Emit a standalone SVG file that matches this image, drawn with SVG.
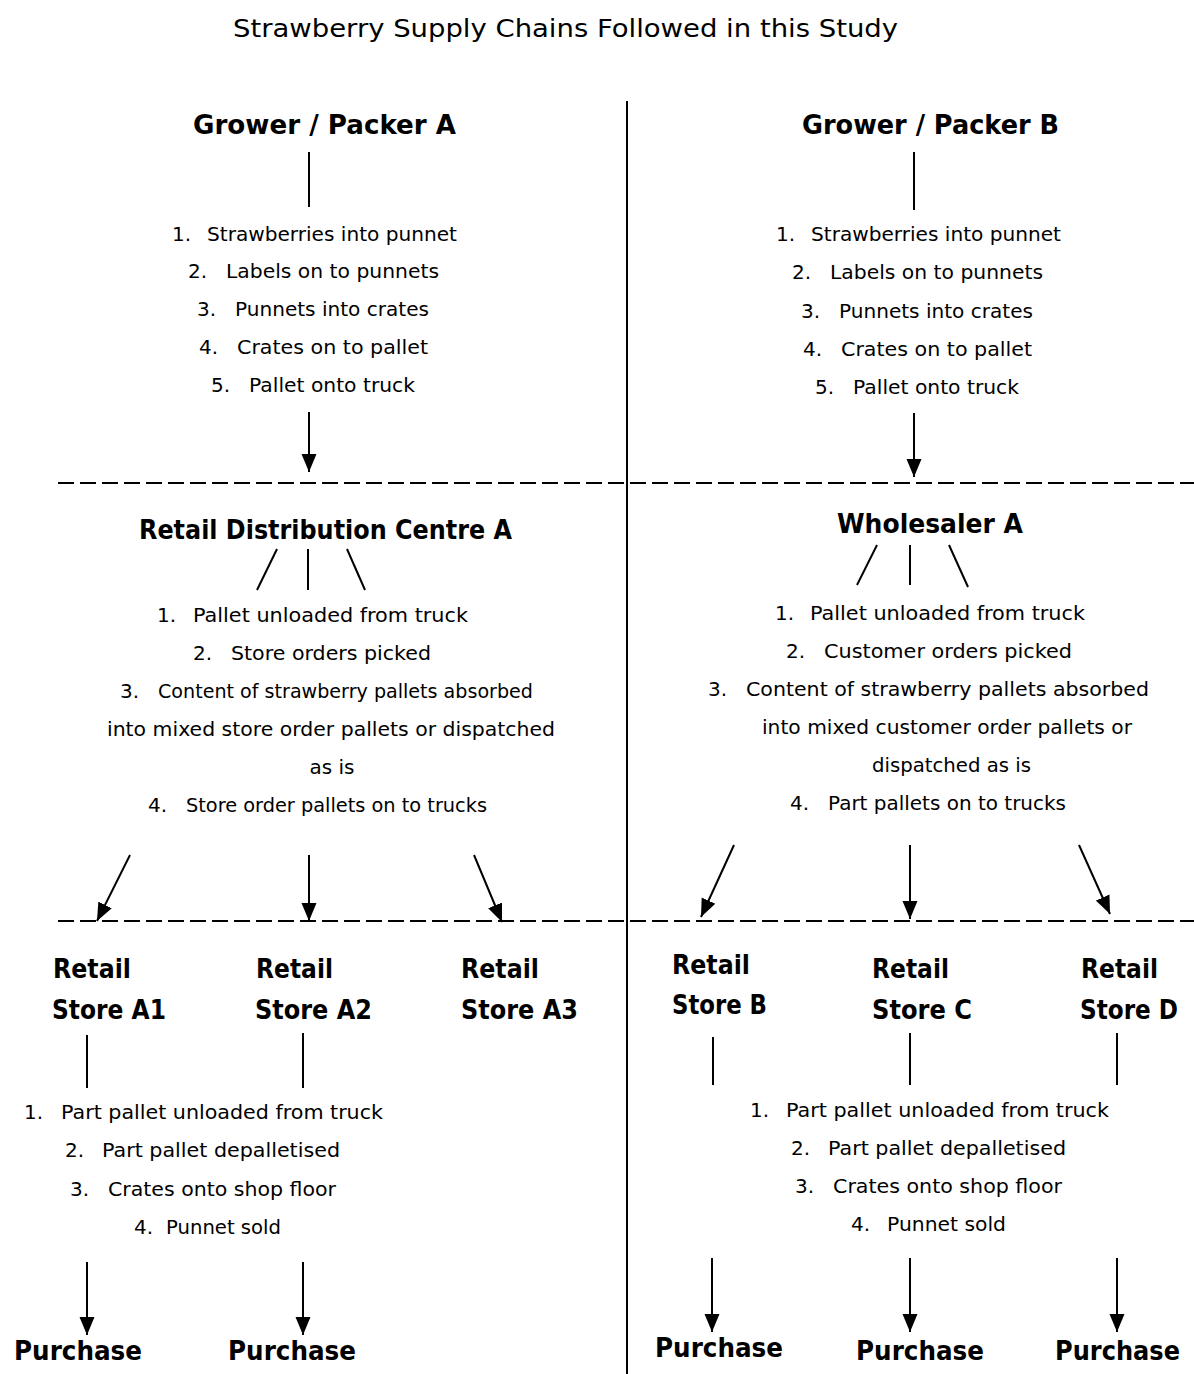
<svg xmlns="http://www.w3.org/2000/svg" width="1194" height="1374" viewBox="0 0 1194 1374">
<style>
  text { font-family: "DejaVu Sans", "Liberation Sans", sans-serif; fill: #000; }
  .t { font-size: 24px; }
  .h { font-size: 27px; font-weight: bold; }
  .s { font-size: 20px; }
  .ln { stroke: #000; stroke-width: 2; fill: none; }
  .ar { stroke: #000; stroke-width: 2; fill: none; marker-end: url(#ah); }
  .dash { stroke: #000; stroke-width: 2; stroke-dasharray: 16 6; fill: none; }
</style>
<defs>
  <marker id="ah" markerUnits="userSpaceOnUse" markerWidth="18" markerHeight="16" refX="18" refY="8" orient="auto">
    <path d="M0,0.5 L18,8 L0,15.5 z" fill="#000"/>
  </marker>
</defs>
<rect width="1194" height="1374" fill="#fff"/>
<text class="t" x="233" y="37" textLength="665" lengthAdjust="spacingAndGlyphs">Strawberry Supply Chains Followed in this Study</text>

<g id="connectors">
  <line class="ln" x1="627" y1="101" x2="627" y2="1374"/>
  <line class="dash" x1="58" y1="483" x2="1194" y2="483"/>
  <line class="dash" x1="58" y1="921" x2="1194" y2="921"/>
  <line class="ln" x1="309" y1="152" x2="309" y2="207"/>
  <line class="ln" x1="914" y1="152" x2="914" y2="210"/>
  <line class="ar" x1="309" y1="412" x2="309" y2="472"/>
  <line class="ar" x1="914" y1="413" x2="914" y2="477"/>
  <line class="ln" x1="257" y1="590" x2="277" y2="549"/>
  <line class="ln" x1="308" y1="549" x2="308" y2="590"/>
  <line class="ln" x1="347" y1="549" x2="365" y2="590"/>
  <line class="ln" x1="857" y1="585" x2="877" y2="545"/>
  <line class="ln" x1="910" y1="545" x2="910" y2="585"/>
  <line class="ln" x1="949" y1="545" x2="968" y2="587"/>
  <line class="ar" x1="130" y1="855" x2="97" y2="921"/>
  <line class="ar" x1="309" y1="855" x2="309" y2="921"/>
  <line class="ar" x1="474" y1="855" x2="502" y2="922"/>
  <line class="ar" x1="734" y1="845" x2="701" y2="917"/>
  <line class="ar" x1="910" y1="845" x2="910" y2="919"/>
  <line class="ar" x1="1079" y1="845" x2="1110" y2="914"/>
  <line class="ln" x1="87" y1="1035" x2="87" y2="1088"/>
  <line class="ln" x1="303" y1="1033" x2="303" y2="1088"/>
  <line class="ln" x1="713" y1="1037" x2="713" y2="1085"/>
  <line class="ln" x1="910" y1="1033" x2="910" y2="1085"/>
  <line class="ln" x1="1117" y1="1033" x2="1117" y2="1085"/>
  <line class="ar" x1="87" y1="1262" x2="87" y2="1335"/>
  <line class="ar" x1="303" y1="1262" x2="303" y2="1335"/>
  <line class="ar" x1="712" y1="1258" x2="712" y2="1332"/>
  <line class="ar" x1="910" y1="1258" x2="910" y2="1332"/>
  <line class="ar" x1="1117" y1="1258" x2="1117" y2="1332"/>
</g>

<g id="grower-a">
  <text class="h" x="193" y="134" textLength="263" lengthAdjust="spacingAndGlyphs">Grower / Packer A</text>
  <text class="s" x="172" y="241">1.</text><text class="s" x="207" y="241" textLength="250" lengthAdjust="spacingAndGlyphs">Strawberries into punnet</text>
  <text class="s" x="188" y="278">2.</text><text class="s" x="226" y="278" textLength="213" lengthAdjust="spacingAndGlyphs">Labels on to punnets</text>
  <text class="s" x="197" y="316">3.</text><text class="s" x="235" y="316" textLength="194" lengthAdjust="spacingAndGlyphs">Punnets into crates</text>
  <text class="s" x="199" y="354">4.</text><text class="s" x="237" y="354" textLength="191" lengthAdjust="spacingAndGlyphs">Crates on to pallet</text>
  <text class="s" x="211" y="392">5.</text><text class="s" x="249" y="392" textLength="166" lengthAdjust="spacingAndGlyphs">Pallet onto truck</text>
</g>

<g id="grower-b">
  <text class="h" x="802" y="134" textLength="257" lengthAdjust="spacingAndGlyphs">Grower / Packer B</text>
  <text class="s" x="776" y="241">1.</text><text class="s" x="811" y="241" textLength="250" lengthAdjust="spacingAndGlyphs">Strawberries into punnet</text>
  <text class="s" x="792" y="279">2.</text><text class="s" x="830" y="279" textLength="213" lengthAdjust="spacingAndGlyphs">Labels on to punnets</text>
  <text class="s" x="801" y="318">3.</text><text class="s" x="839" y="318" textLength="194" lengthAdjust="spacingAndGlyphs">Punnets into crates</text>
  <text class="s" x="803" y="356">4.</text><text class="s" x="841" y="356" textLength="191" lengthAdjust="spacingAndGlyphs">Crates on to pallet</text>
  <text class="s" x="815" y="394">5.</text><text class="s" x="853" y="394" textLength="166" lengthAdjust="spacingAndGlyphs">Pallet onto truck</text>
</g>

<g id="rdc-a">
  <text class="h" x="139" y="539" textLength="373" lengthAdjust="spacingAndGlyphs">Retail Distribution Centre A</text>
  <text class="s" x="157" y="622">1.</text><text class="s" x="193" y="622" textLength="275" lengthAdjust="spacingAndGlyphs">Pallet unloaded from truck</text>
  <text class="s" x="193" y="660">2.</text><text class="s" x="231" y="660" textLength="200" lengthAdjust="spacingAndGlyphs">Store orders picked</text>
  <text class="s" x="120" y="698">3.</text><text class="s" x="158" y="698" textLength="375" lengthAdjust="spacingAndGlyphs">Content of strawberry pallets absorbed</text>
  <text class="s" x="107" y="736" textLength="448" lengthAdjust="spacingAndGlyphs">into mixed store order pallets or dispatched</text>
  <text class="s" x="332" y="774" text-anchor="middle">as is</text>
  <text class="s" x="148" y="812">4.</text><text class="s" x="186" y="812" textLength="301" lengthAdjust="spacingAndGlyphs">Store order pallets on to trucks</text>
</g>

<g id="wholesaler-a">
  <text class="h" x="837" y="533" textLength="186" lengthAdjust="spacingAndGlyphs">Wholesaler A</text>
  <text class="s" x="775" y="620">1.</text><text class="s" x="810" y="620" textLength="275" lengthAdjust="spacingAndGlyphs">Pallet unloaded from truck</text>
  <text class="s" x="786" y="658">2.</text><text class="s" x="824" y="658" textLength="248" lengthAdjust="spacingAndGlyphs">Customer orders picked</text>
  <text class="s" x="708" y="696">3.</text><text class="s" x="746" y="696" textLength="403" lengthAdjust="spacingAndGlyphs">Content of strawberry pallets absorbed</text>
  <text class="s" x="762" y="734" textLength="370" lengthAdjust="spacingAndGlyphs">into mixed customer order pallets or</text>
  <text class="s" x="872" y="772" textLength="159" lengthAdjust="spacingAndGlyphs">dispatched as is</text>
  <text class="s" x="790" y="810">4.</text><text class="s" x="828" y="810" textLength="238" lengthAdjust="spacingAndGlyphs">Part pallets on to trucks</text>
</g>

<g id="store-a1">
  <text class="h" x="53" y="978" textLength="78" lengthAdjust="spacingAndGlyphs">Retail</text>
  <text class="h" x="52" y="1019" textLength="114" lengthAdjust="spacingAndGlyphs">Store A1</text>
</g>
<g id="store-a2">
  <text class="h" x="256" y="978" textLength="77" lengthAdjust="spacingAndGlyphs">Retail</text>
  <text class="h" x="255" y="1019" textLength="117" lengthAdjust="spacingAndGlyphs">Store A2</text>
</g>
<g id="store-a3">
  <text class="h" x="461" y="978" textLength="78" lengthAdjust="spacingAndGlyphs">Retail</text>
  <text class="h" x="461" y="1019" textLength="117" lengthAdjust="spacingAndGlyphs">Store A3</text>
</g>
<g id="store-b">
  <text class="h" x="672" y="974" textLength="78" lengthAdjust="spacingAndGlyphs">Retail</text>
  <text class="h" x="672" y="1014" textLength="95" lengthAdjust="spacingAndGlyphs">Store B</text>
</g>
<g id="store-c">
  <text class="h" x="872" y="978" textLength="77" lengthAdjust="spacingAndGlyphs">Retail</text>
  <text class="h" x="872" y="1019" textLength="100" lengthAdjust="spacingAndGlyphs">Store C</text>
</g>
<g id="store-d">
  <text class="h" x="1081" y="978" textLength="77" lengthAdjust="spacingAndGlyphs">Retail</text>
  <text class="h" x="1080" y="1019" textLength="98" lengthAdjust="spacingAndGlyphs">Store D</text>
</g>

<g id="store-a-steps">
  <text class="s" x="24" y="1119">1.</text><text class="s" x="61" y="1119" textLength="322" lengthAdjust="spacingAndGlyphs">Part pallet unloaded from truck</text>
  <text class="s" x="65" y="1157">2.</text><text class="s" x="102" y="1157" textLength="238" lengthAdjust="spacingAndGlyphs">Part pallet depalletised</text>
  <text class="s" x="70" y="1196">3.</text><text class="s" x="108" y="1196" textLength="228" lengthAdjust="spacingAndGlyphs">Crates onto shop floor</text>
  <text class="s" x="134" y="1234">4.</text><text class="s" x="166" y="1234" textLength="115" lengthAdjust="spacingAndGlyphs">Punnet sold</text>
</g>

<g id="store-bcd-steps">
  <text class="s" x="750" y="1117">1.</text><text class="s" x="786" y="1117" textLength="323" lengthAdjust="spacingAndGlyphs">Part pallet unloaded from truck</text>
  <text class="s" x="791" y="1155">2.</text><text class="s" x="828" y="1155" textLength="238" lengthAdjust="spacingAndGlyphs">Part pallet depalletised</text>
  <text class="s" x="795" y="1193">3.</text><text class="s" x="833" y="1193" textLength="229" lengthAdjust="spacingAndGlyphs">Crates onto shop floor</text>
  <text class="s" x="851" y="1231">4.</text><text class="s" x="887" y="1231" textLength="119" lengthAdjust="spacingAndGlyphs">Punnet sold</text>
</g>

<g id="purchase-a1"><text class="h" x="14" y="1360" textLength="128" lengthAdjust="spacingAndGlyphs">Purchase</text></g>
<g id="purchase-a2"><text class="h" x="228" y="1360" textLength="128" lengthAdjust="spacingAndGlyphs">Purchase</text></g>
<g id="purchase-b"><text class="h" x="655" y="1357" textLength="128" lengthAdjust="spacingAndGlyphs">Purchase</text></g>
<g id="purchase-c"><text class="h" x="856" y="1360" textLength="128" lengthAdjust="spacingAndGlyphs">Purchase</text></g>
<g id="purchase-d"><text class="h" x="1055" y="1360" textLength="125" lengthAdjust="spacingAndGlyphs">Purchase</text></g>
</svg>
